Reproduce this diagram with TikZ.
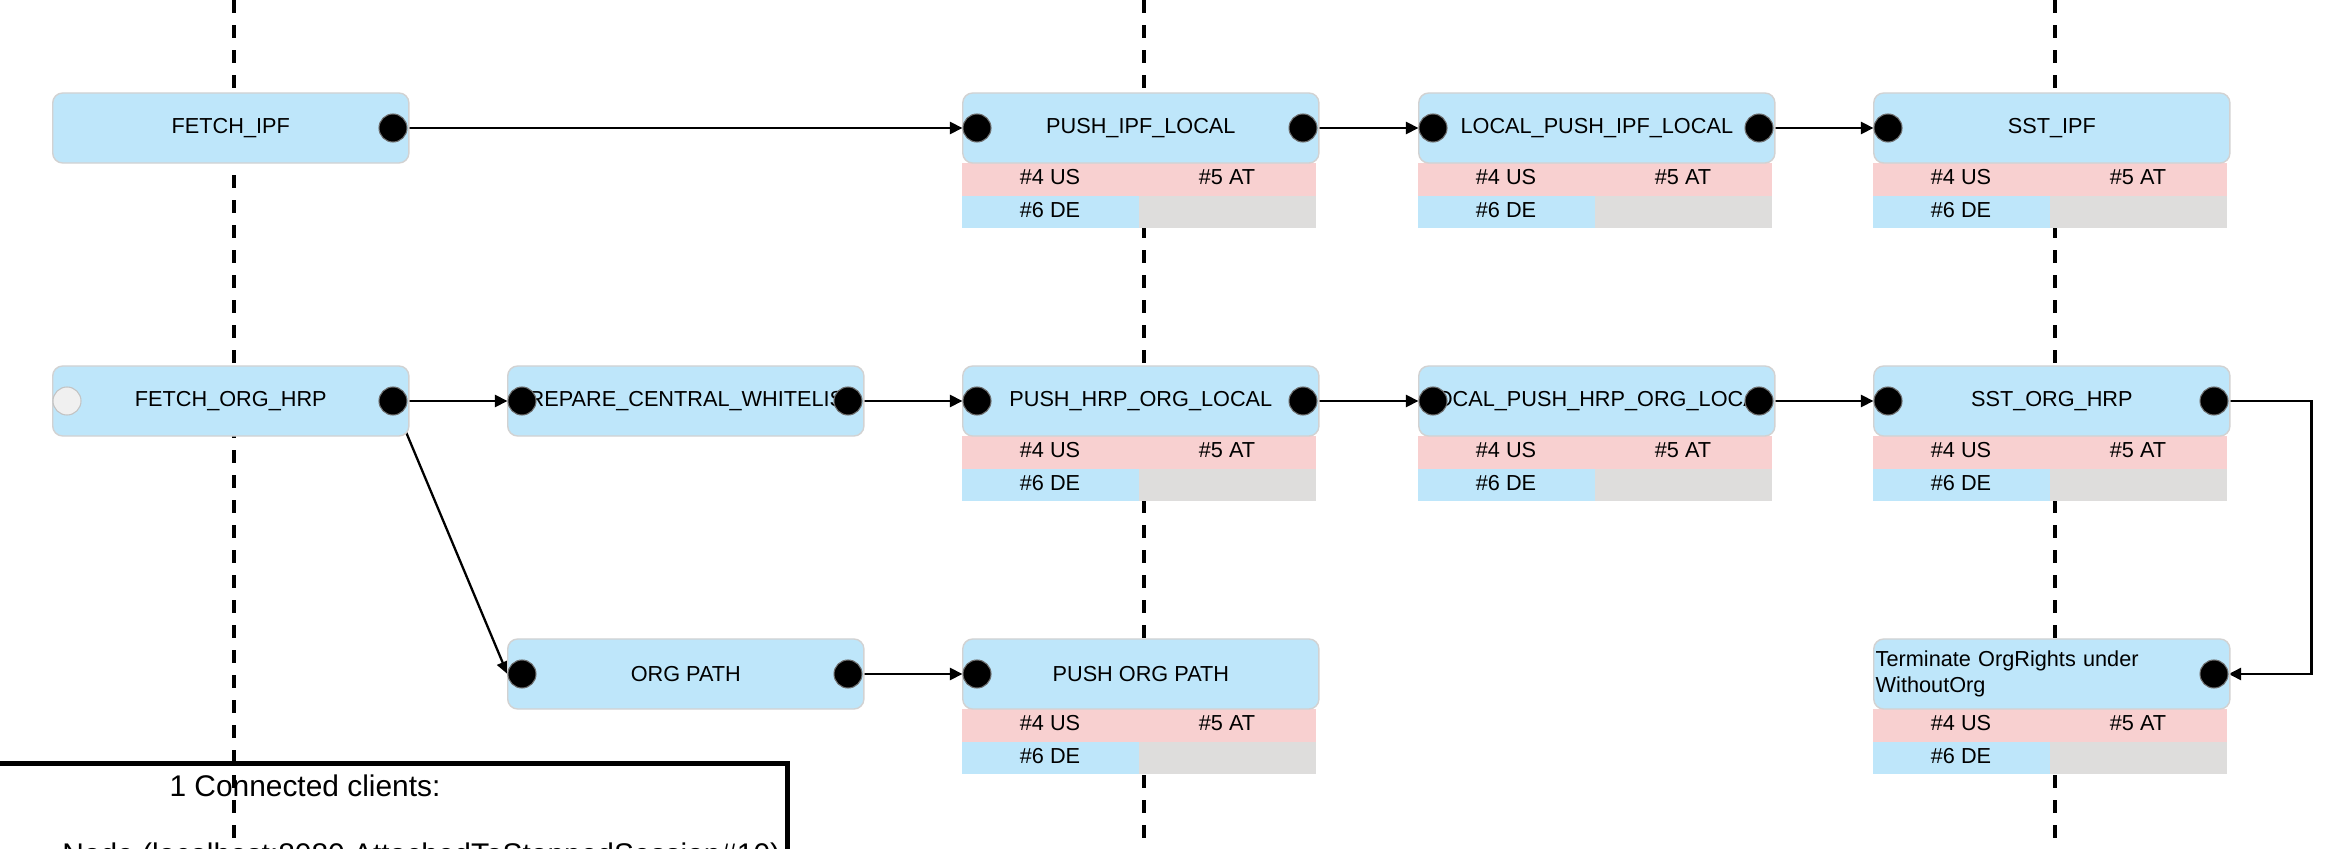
\documentclass[tikz,border=0pt]{standalone}
\usepackage{fontspec}
\setmainfont{Liberation Sans}
\usetikzlibrary{arrows.meta}
\pgfdeclarelayer{bg}
\pgfdeclarelayer{edges}
\pgfsetlayers{bg,edges,main}
\definecolor{boxblue}{RGB}{190,230,250}
\definecolor{cellpink}{RGB}{248,208,208}
\definecolor{cellgray}{RGB}{222,221,220}
\definecolor{boxline}{RGB}{210,210,210}
\definecolor{portline}{RGB}{110,110,110}
\definecolor{idlefill}{RGB}{240,240,240}
\definecolor{idleline}{RGB}{195,195,195}
\newcommand{\flowcells}[3]{%
  \fill[cellpink] (#2,#3+35) rectangle ++(354,33);
  \fill[boxblue] (#2,#3+68) rectangle ++(177,32);
  \fill[cellgray] (#2+177,#3+68) rectangle ++(177,32);
  \node[celltext] (#1-us) at (#2+88,#3+49) {\#4 US};
  \node[celltext] (#1-at) at (#2+265,#3+49) {\#5 AT};
  \node[celltext] (#1-de) at (#2+88,#3+82) {\#6 DE};
}
\begin{document}
\begin{tikzpicture}[x=0.01cm,y=-0.01cm,
  stepbox/.style={draw=boxline, line width=0.4pt, fill=boxblue, rounded corners=0.1cm,
    minimum width=3.56cm, minimum height=0.7cm, inner sep=0pt,
    font=\fontsize{6.17pt}{7.6pt}\selectfont, anchor=west},
  termbox/.style={text width=3.52cm, align=left, inner xsep=0.02cm},
  port/.style={circle, fill=black, draw=portline, line width=0.3pt, minimum size=0.28cm, inner sep=0pt},
  idleport/.style={port, fill=idlefill, draw=idleline},
  celltext/.style={font=\fontsize{6.17pt}{7.6pt}\selectfont, inner sep=0pt},
  flow/.style={line width=0.65pt, -{Triangle[length=0.125cm, width=0.12cm]}},
  lane/.style={line width=0.95pt, dash pattern=on 0.125cm off 0.125cm},
]
\useasboundingbox (0,0) rectangle (2352,849);

% background: clients box and swimlane separators
\begin{pgfonlayer}{bg}
  \node[draw, line width=1.42pt, outer sep=0pt, minimum width=9.86cm, minimum height=2.4cm, inner sep=0pt, anchor=north east] (clients) at (787,763) {};
  \node[font=\fontsize{8.5pt}{10pt}\selectfont, inner sep=0pt] (clients-title) at (305,786) {1 Connected clients:};
  \node[font=\fontsize{8.5pt}{10pt}\selectfont, inner sep=0pt, anchor=base east] (clients-line) at (781,864) {Node (localhost:8080 AttachedToStoppedSession\#10)};
  \draw[lane] (234,0) coordinate (lane1-top) -- (234,849) coordinate (lane1-bot);
  \draw[lane] (1144,0) coordinate (lane2-top) -- (1144,849) coordinate (lane2-bot);
  \draw[lane] (2055,0) coordinate (lane3-top) -- (2055,849) coordinate (lane3-bot);
\end{pgfonlayer}

% tables
\flowcells{pil}{962}{128}
\flowcells{lpil}{1418}{128}
\flowcells{sipf}{1873}{128}
\flowcells{phol}{962}{401}
\flowcells{lphol}{1418}{401}
\flowcells{soh}{1873}{401}
\flowcells{pop}{962}{674}
\flowcells{term}{1873}{674}

% step boxes
\node[stepbox] (fipf) at (52,128) {FETCH\_IPF};
\node[stepbox] (pil) at (962,128) {PUSH\_IPF\_LOCAL};
\node[stepbox] (lpil) at (1418,128) {LOCAL\_PUSH\_IPF\_LOCAL};
\node[stepbox] (sipf) at (1873,128) {SST\_IPF};
\node[stepbox] (foh) at (52,401) {FETCH\_ORG\_HRP};
\node[stepbox] (pcw) at (507,401) {PREPARE\_CENTRAL\_WHITELIST};
\node[stepbox] (phol) at (962,401) {PUSH\_HRP\_ORG\_LOCAL};
\node[stepbox] (lphol) at (1418,401) {LOCAL\_PUSH\_HRP\_ORG\_LOCAL};
\node[stepbox] (soh) at (1873,401) {SST\_ORG\_HRP};
\node[stepbox] (op) at (507,674) {ORG PATH};
\node[stepbox] (pop) at (962,674) {PUSH ORG PATH};
\node[stepbox, termbox] (term) at (1873,674) {Terminate OrgRights under\\WithoutOrg};

% ports
\node[port] (fipf-r) at (393,128) {};
\node[port] (pil-l) at (977,128) {};
\node[port] (pil-r) at (1303,128) {};
\node[port] (lpil-l) at (1433,128) {};
\node[port] (lpil-r) at (1759,128) {};
\node[port] (sipf-l) at (1888,128) {};
\node[idleport] (foh-l) at (67,401) {};
\node[port] (foh-r) at (393,401) {};
\node[port] (pcw-l) at (522,401) {};
\node[port] (pcw-r) at (848,401) {};
\node[port] (phol-l) at (977,401) {};
\node[port] (phol-r) at (1303,401) {};
\node[port] (lphol-l) at (1433,401) {};
\node[port] (lphol-r) at (1759,401) {};
\node[port] (soh-l) at (1888,401) {};
\node[port] (soh-r) at (2214,401) {};
\node[port] (op-l) at (522,674) {};
\node[port] (op-r) at (848,674) {};
\node[port] (pop-l) at (977,674) {};
\node[port] (term-r) at (2214,674) {};

% connectors
\begin{pgfonlayer}{edges}
  \draw[flow] (fipf-r) -- (pil-l);
  \draw[flow] (pil-r) -- (lpil-l);
  \draw[flow] (lpil-r) -- (sipf-l);
  \draw[flow] (foh-r) -- (pcw-l);
  \draw[flow] (pcw-r) -- (phol-l);
  \draw[flow] (phol-r) -- (lphol-l);
  \draw[flow] (lphol-r) -- (soh-l);
  \draw[flow] (foh-r.center) -- (op-l.west);
  \draw[flow] (op-r) -- (pop-l);
  \draw[flow] (soh-r.east) -- ++(83,0) |- (term-r.east);
\end{pgfonlayer}
\end{tikzpicture}
\end{document}
